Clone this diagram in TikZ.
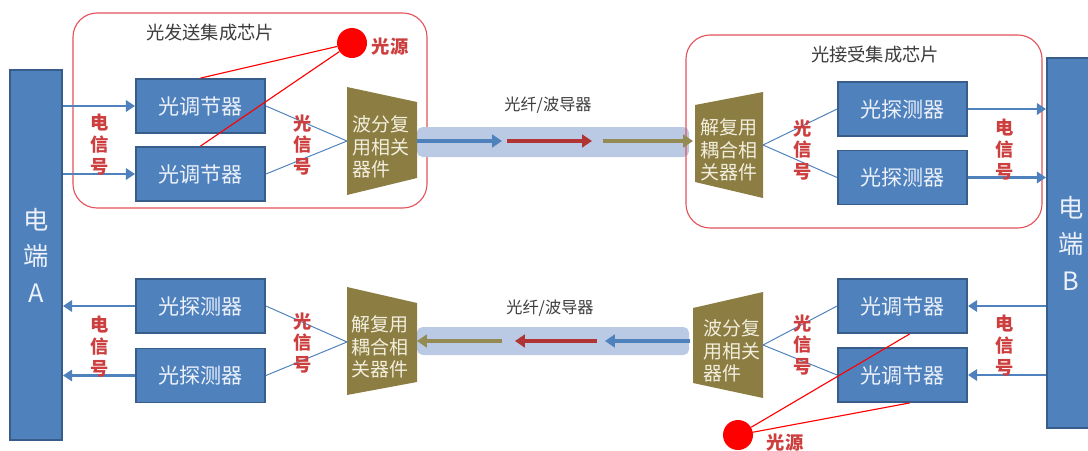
\documentclass[tikz,border=0pt]{standalone}
\usepackage{fontspec}
\setmainfont{Noto Sans CJK SC}
\usetikzlibrary{arrows.meta}

\definecolor{boxblue}{HTML}{4F81BD}
\definecolor{boxedge}{HTML}{385D8A}
\definecolor{boxtext}{RGB}{236,241,250}
\definecolor{wdmolive}{RGB}{140,126,66}
\definecolor{wdmtext}{RGB}{242,238,222}
\definecolor{fibolive}{RGB}{148,138,84}
\definecolor{fibred}{RGB}{176,52,52}
\definecolor{bandblue}{RGB}{186,202,228}
\definecolor{sigred}{RGB}{205,62,62}
\definecolor{chipred}{RGB}{228,82,92}
\definecolor{lblgray}{RGB}{60,60,60}

\tikzset{
  modbox/.style={draw=boxedge, line width=1.3pt, fill=boxblue, text=boxtext,
    minimum width=3.225cm, minimum height=1.35cm, inner sep=0pt,
    font=\fontsize{15}{18}\selectfont},
  termbar/.style={draw=boxedge, line width=1.3pt, fill=boxblue, text=boxtext,
    minimum height=9.25cm, inner sep=0pt, align=center,
    font=\fontsize{18}{26}\selectfont},
  sig/.style={text=sigred, align=center, inner sep=0pt,
    font=\bfseries\fontsize{13}{15.6}\selectfont},
  wdm/.style={fill=wdmolive},
  wdmlbl/.style={text=wdmtext, align=left, inner sep=0pt,
    font=\fontsize{13.5}{16}\selectfont},
  elarrow/.style={draw=boxblue, line width=2.1pt, -{Triangle[length=6.5pt,width=8pt]}},
  optline/.style={draw=boxblue, line width=0.7pt},
  srcline/.style={draw=red, line width=0.8pt},
  chip/.style={draw=chipred, line width=0.8pt, rounded corners=0.6cm},
  band/.style={fill=bandblue, rounded corners=4pt, minimum width=6.8cm, inner sep=0pt},
  fibarrow/.style={line width=2.4pt, -{Triangle[length=7pt,width=9pt]}},
  lightsrc/.style={circle, fill=red, minimum size=0.75cm, inner sep=0pt},
  title/.style={text=lblgray, font=\fontsize{13}{15}\selectfont},
}

\begin{document}
\begin{tikzpicture}[x=0.025cm, y=-0.025cm]
  \useasboundingbox (0,0) rectangle (1088,450);

  % 电端 A / B
  \node[termbar, minimum width=1.3cm] (termA) at (36,255) {电\\端\\A};
  \node[termbar, minimum width=1.2cm] (termB) at (1071,243) {电\\端\\B};

  % 光发送集成芯片 (上左)
  \draw[chip] (73,13) rectangle (427,208);
  \node[title] (txchip) at (210,33) {光发送集成芯片};

  \node[modbox] (mod1) at (200.5,106) {光调节器};
  \node[modbox] (mod2) at (200.5,174) {光调节器};
  \draw[elarrow] (termA.east |- mod1) -- (mod1.west);
  \draw[elarrow] (termA.east |- mod2) -- (mod2.west);
  \node[sig] (sigA1) at (100,145) {电\\信\\号};

  % 光纤 (上)
  \node[band, minimum height=0.75cm] (fib1) at (553,142) {};
  \node[text=lblgray, font=\fontsize{11.5}{14}\selectfont] (fib1lbl) at (548,105) {光纤/波导器};

  \fill[wdm] (347,87) -- (417,102) -- (417,178) -- (347,195) -- cycle;
  \node[wdmlbl] (mux1) at (381,147) {波分复\\用相关\\器件};
  \coordinate (mux1-in) at (347,141);
  \coordinate (mux1-out) at (417,141);
  \draw[optline] (mod1.east) -- (mux1-in);
  \draw[optline] (mod2.east) -- (mux1-in);
  \node[sig] (sigO1) at (303,145) {光\\信\\号};

  \node[lightsrc] (src1) at (352,43) {};
  \node[sig] (src1lbl) at (390,47) {光源};
  \draw[srcline] (src1) -- (mod1.north);
  \draw[srcline] (src1) -- (mod2.north);

  % 光接受集成芯片 (上右)
  \draw[chip] (686,35) rectangle (1042,228);
  \node[title] (rxchip) at (875,55) {光接受集成芯片};

  \fill[wdm] (695,105) -- (763,92) -- (763,198) -- (695,182) -- cycle;
  \node[wdmlbl] (demux1) at (729,150) {解复用\\耦合相\\关器件};
  \coordinate (demux1-in) at (693,141);
  \coordinate (demux1-out) at (763,145);

  \coordinate (f1a) at (502,141);
  \coordinate (f1b) at (507,141);
  \coordinate (f1c) at (592,141);
  \coordinate (f1d) at (603,141);
  \draw[fibarrow, draw=boxblue] (mux1-out) -- (f1a);
  \draw[fibarrow, draw=fibred] (f1b) -- (f1c);
  \draw[fibarrow, draw=fibolive] (f1d) -- (demux1-in);

  \node[modbox] (det1) at (902.5,109) {光探测器};
  \node[modbox] (det2) at (902.5,177.5) {光探测器};
  \draw[optline] (demux1-out) -- (det1.west);
  \draw[optline] (demux1-out) -- (det2.west);
  \node[sig] (sigO2) at (803,150) {光\\信\\号};
  \draw[elarrow] (det1.east) -- (det1 -| termB.west);
  \draw[elarrow] (det2.east) -- (det2 -| termB.west);
  \node[sig] (sigB1) at (1005,150) {电\\信\\号};

  % 下左: 接收
  \node[modbox] (det3) at (200.5,306) {光探测器};
  \node[modbox] (det4) at (200.5,375.5) {光探测器};
  \draw[elarrow] (det3.west) -- (det3 -| termA.east);
  \draw[elarrow] (det4.west) -- (det4 -| termA.east);
  \node[sig] (sigA2) at (100,347) {电\\信\\号};

  % 光纤 (下)
  \node[band, minimum height=0.7cm] (fib2) at (553,341) {};
  \node[text=lblgray, font=\fontsize{11.5}{14}\selectfont] (fib2lbl) at (550,308) {光纤/波导器};

  \fill[wdm] (347,287) -- (417,303) -- (417,382) -- (347,395) -- cycle;
  \node[wdmlbl] (demux2) at (380,347) {解复用\\耦合相\\关器件};
  \coordinate (demux2-out) at (347,342);
  \coordinate (demux2-in) at (417,341);
  \draw[optline] (det3.east) -- (demux2-out);
  \draw[optline] (det4.east) -- (demux2-out);
  \node[sig] (sigO3) at (303,343) {光\\信\\号};

  % 下右: 发送
  \fill[wdm] (693,308) -- (763,292) -- (763,398) -- (693,383) -- cycle;
  \node[wdmlbl] (mux2) at (732,351) {波分复\\用相关\\器件};
  \coordinate (mux2-out) at (690,341);
  \coordinate (mux2-in) at (763,345);

  \coordinate (f2a) at (605,341);
  \coordinate (f2b) at (597,341);
  \coordinate (f2c) at (515,341);
  \coordinate (f2d) at (502,341);
  \draw[fibarrow, draw=boxblue] (mux2-out) -- (f2a);
  \draw[fibarrow, draw=fibred] (f2b) -- (f2c);
  \draw[fibarrow, draw=fibolive] (f2d) -- (demux2-in);

  \node[modbox] (mod3) at (902.5,306) {光调节器};
  \node[modbox] (mod4) at (902.5,375) {光调节器};
  \draw[optline] (mux2-in) -- (mod3.west);
  \draw[optline] (mux2-in) -- (mod4.west);
  \node[sig] (sigO4) at (803,345) {光\\信\\号};
  \draw[elarrow] (mod3 -| termB.west) -- (mod3.east);
  \draw[elarrow] (mod4 -| termB.west) -- (mod4.east);
  \node[sig] (sigB2) at (1005,346) {电\\信\\号};

  \node[lightsrc] (src2) at (738,435) {};
  \node[sig] (src2lbl) at (785,443) {光源};
  \draw[srcline] (src2) -- ([xshift=0.18cm]mod3.south);
  \draw[srcline] (src2) -- ([xshift=0.18cm]mod4.south);
\end{tikzpicture}
\end{document}
